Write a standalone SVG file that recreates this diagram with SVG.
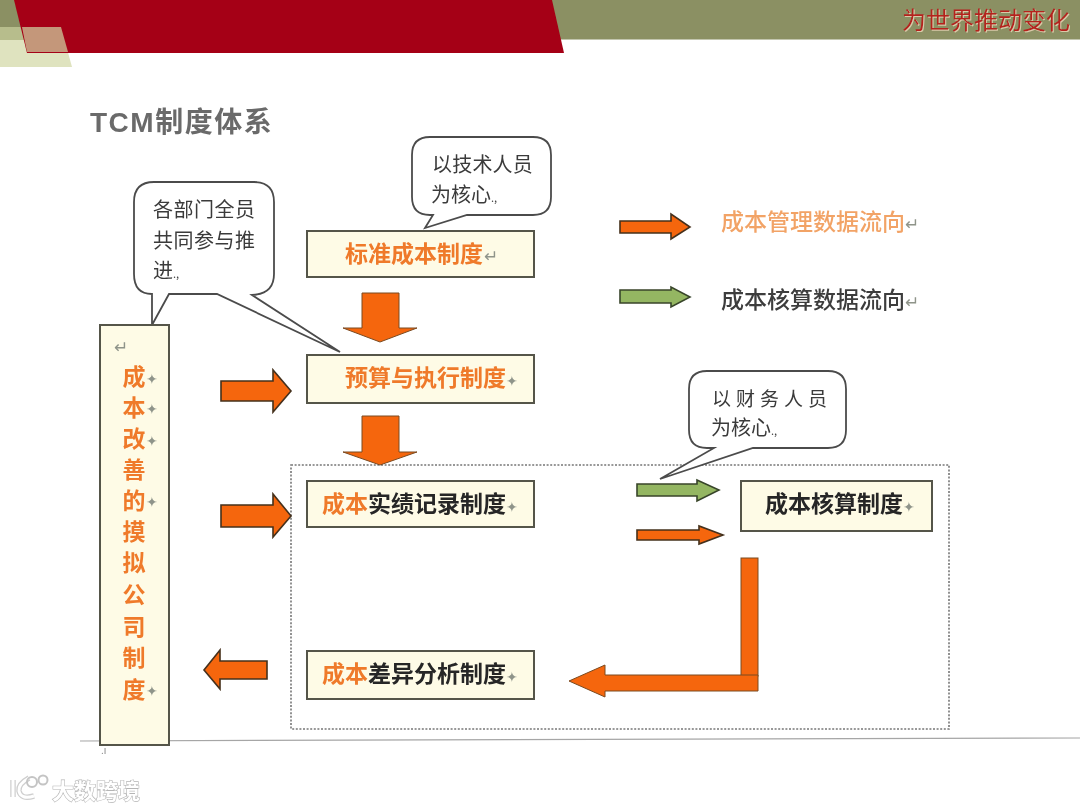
<svg xmlns="http://www.w3.org/2000/svg" width="1080" height="810" viewBox="0 0 1080 810">
<defs>
<filter id="soft" filterUnits="userSpaceOnUse" x="0" y="0" width="1080" height="810"><feGaussianBlur stdDeviation="0.55"/></filter>
<filter id="shadow" filterUnits="userSpaceOnUse" x="880" y="0" width="200" height="40"><feDropShadow dx="1" dy="1" stdDeviation="0.5" flood-color="#d9c9a8"/></filter>
</defs>
<style>
text{font-family:"Noto Sans CJK SC","Noto Sans",sans-serif}
.box{fill:#fefbe6;stroke:#555548;stroke-width:2}
.lab{font-size:23px;font-weight:700;fill:#ef7a2a}
.blk{fill:#262626}
.mk{font-size:14px;font-weight:400;fill:#8f948a;font-family:"DejaVu Sans",sans-serif}
.ar{font-size:17px;font-weight:400;fill:#8f948a;font-family:"DejaVu Sans",sans-serif}
.or{fill:#f5660f;stroke:#45301c;stroke-width:1.6}
.ol{fill:#f5660f;stroke:#7a4a20;stroke-width:1}
.gr{fill:#94b662;stroke:#38452a;stroke-width:1.6}
.bub{fill:#fff;stroke:#4c4c4c;stroke-width:1.8}
.bt{font-size:20px;fill:#3a3a3a}
.col{font-size:23px;font-weight:700;fill:#ef7a2a;text-anchor:middle}
</style>
<rect width="1080" height="810" fill="#fff"/>
<g filter="url(#soft)">
<g id="header">
<rect x="0" y="0" width="1080" height="39" fill="#8b9063"/>
<rect x="0" y="39" width="1080" height="1" fill="#c3c6ae"/>
<polygon points="0,27 61,27 72,67 0,67" fill="#dfe3bf"/>
<polygon points="0,27 22,27 25,40 0,40" fill="#b7bd8c"/>
<polygon points="14,0 552,0 564,53 27,53" fill="#a50015"/>
<polygon points="22,27 61,27 68,52 27,52" fill="#c4977a"/>
<text x="902" y="29" font-size="24" fill="#b5201f" filter="url(#shadow)">为世界推动变化</text>
</g>
<text id="title" x="90" y="132" font-size="28" font-weight="700" fill="#6b6b6b" letter-spacing="1.5" style="font-family:'Liberation Sans','Noto Sans CJK SC',sans-serif">TCM制度体系</text>
<line x1="80" y1="741" x2="1080" y2="738" stroke="#a6a6a6" stroke-width="1.2"/>
<rect id="scope" x="291" y="465" width="658" height="264" fill="none" stroke="#777" stroke-width="1.6" stroke-dasharray="2 1.6"/>
<g id="connectors">
<polygon class="ol" points="362,293 399,293 399,328 417,328 380,342 343,328 362,328"/>
<polygon class="ol" points="362,416 399,416 399,452 417,452 380,465 343,452 362,452"/>
<polygon class="or" points="221,381 273,381 273,370 291,391 273,412 273,401 221,401"/>
<polygon class="or" points="221,505 273,505 273,494 291,516 273,537 273,527 221,527"/>
<polygon class="or" points="267,661 220,661 220,650 204,670 220,689 220,679 267,679"/>
<polygon class="or" points="620,221 671,221 671,214 690,227 671,239 671,233 620,233"/>
<polygon class="gr" points="620,290 671,290 671,287 690,297 671,307 671,303 620,303"/>
<polygon class="gr" points="637,484 697,484 697,480 719,490 697,501 697,496 637,496"/>
<polygon class="or" points="637,530 699,530 699,526 723,535 699,544 699,540 637,540"/>
<rect class="ol" x="741" y="558" width="17" height="118"/>
<polygon class="ol" points="758,675 758,691 605,691 605,697 569,681 605,665 605,675"/>
</g>
<g id="bubble-tech">
<path class="bub" d="M433,215 H430 Q412,215 412,197 V155 Q412,137 430,137 H533 Q551,137 551,155 V197 Q551,215 533,215 H467 L425,228 Z"/>
<text class="bt" x="432" y="172" letter-spacing="0.2">以技术人员</text>
<text class="bt" x="431" y="202">为核心<tspan font-size="11">.,</tspan></text>
</g>
<g id="bubble-all">
<path class="bub" d="M152,294 Q134,294 134,274 V202 Q134,182 154,182 H254 Q274,182 274,202 V274 Q274,294 252,295 L340,352 L217,294 H169 L152,325 Z"/>
<text class="bt" x="153" y="217" letter-spacing="0.5">各部门全员</text>
<text class="bt" x="153" y="248" letter-spacing="0.5">共同参与推</text>
<text class="bt" x="153" y="278">进<tspan font-size="11">.,</tspan></text>
</g>
<g id="bubble-fin">
<path class="bub" d="M714,448 H707 Q689,448 689,430 V389 Q689,371 707,371 H828 Q846,371 846,389 V430 Q846,448 828,448 H753 L660,479 Z"/>
<text class="bt" x="712" y="406" style="font-size:19px" letter-spacing="5">以财务人员</text>
<text class="bt" x="711" y="435">为核心<tspan font-size="11">.,</tspan></text>
</g>
<g id="node-standard">
<rect class="box" x="307" y="231" width="227" height="46"/>
<text class="lab" x="345" y="262">标准成本制度<tspan class="ar" dx="1">↵</tspan></text>
</g>
<g id="node-budget">
<rect class="box" x="307" y="355" width="227" height="48"/>
<text class="lab" x="345" y="386">预算与执行制度<tspan class="mk">✦</tspan></text>
</g>
<g id="node-actual">
<rect class="box" x="307" y="481" width="227" height="46"/>
<text class="lab" x="322" y="512">成本<tspan class="blk">实绩记录制度</tspan><tspan class="mk">✦</tspan></text>
</g>
<g id="node-variance">
<rect class="box" x="307" y="651" width="227" height="48"/>
<text class="lab" x="322" y="682">成本<tspan class="blk">差异分析制度</tspan><tspan class="mk">✦</tspan></text>
</g>
<g id="node-costing">
<rect class="box" x="741" y="481" width="191" height="50"/>
<text class="lab blk" x="765" y="512">成本核算制度<tspan class="mk">✦</tspan></text>
</g>
<g id="node-company">
<rect class="box" x="100" y="325" width="69" height="420"/>
<text class="ar" x="114" y="353">↵</text>
<text class="col" x="134" y="385">成</text><text class="mk" x="146" y="384">✦</text>
<text class="col" x="134" y="416">本</text><text class="mk" x="146" y="414">✦</text>
<text class="col" x="134" y="447">改</text><text class="mk" x="146" y="446">✦</text>
<text class="col" x="134" y="478">善</text>
<text class="col" x="134" y="509">的</text><text class="mk" x="146" y="507">✦</text>
<text class="col" x="134" y="540">摸</text>
<text class="col" x="134" y="571">拟</text>
<text class="col" x="134" y="603">公</text>
<text class="col" x="134" y="635">司</text>
<text class="col" x="134" y="666">制</text>
<text class="col" x="134" y="698">度</text><text class="mk" x="146" y="696">✦</text>
</g>
<text x="101" y="754" font-size="10" fill="#8a8a8a">.ı</text>
<g id="legend">
<text x="721" y="230" font-size="23" font-weight="500" fill="#f2a366">成本管理数据流向<tspan class="ar">↵</tspan></text>
<text x="721" y="308" font-size="23" font-weight="500" fill="#3c3c3c">成本核算数据流向<tspan class="ar">↵</tspan></text>
</g>
<g id="watermark" fill="none">
<path d="M13,780 L13,797 M29,778 Q18,784 19,791 Q21,800 34,796" stroke="#cfcfcf" stroke-width="5.5"/>
<path d="M13,780 L13,797 M29,778 Q18,784 19,791 Q21,800 34,796" stroke="#fff" stroke-width="3"/>
<circle cx="32" cy="782" r="5" stroke="#c4c4c4" stroke-width="2"/><circle cx="43" cy="780" r="4.5" stroke="#c4c4c4" stroke-width="2"/>
<text x="52" y="799" font-size="22" font-weight="700" fill="#fff" stroke="#b5b5b5" stroke-width="1.2" paint-order="stroke">大数跨境</text>
</g>
</g>
</svg>
